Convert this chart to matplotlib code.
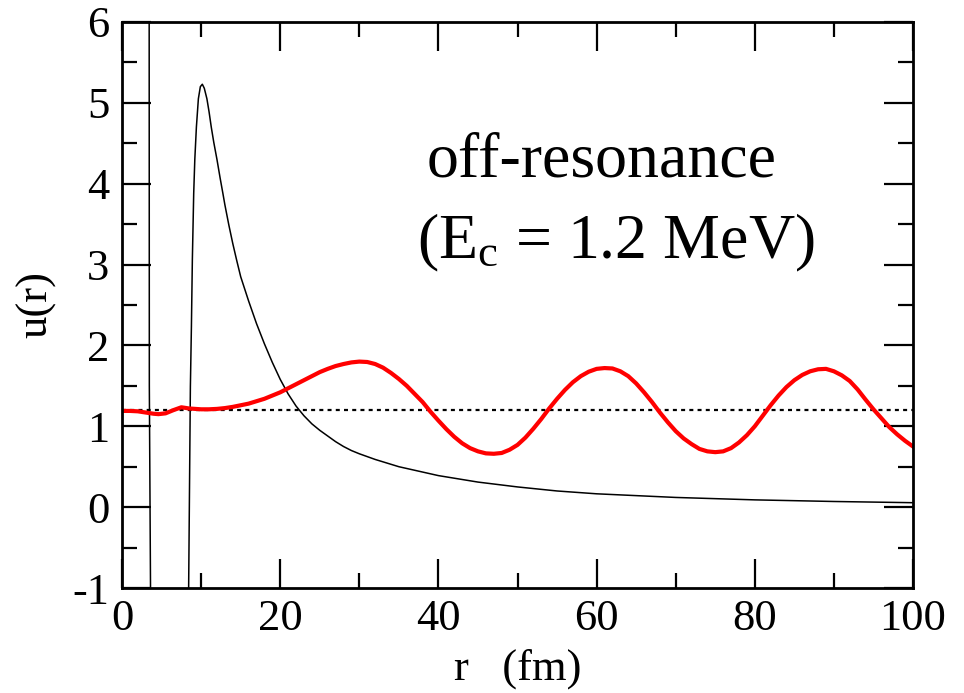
import matplotlib
matplotlib.use("Agg")
import matplotlib.pyplot as plt

# curva preta (potencial)
r_preta = [3.40, 3.43, 3.45, 3.60, 3.70, 8.20, 8.42, 8.64, 8.77, 8.89, 9.06, 9.20,
           9.40, 9.65, 9.90, 10.15, 10.40, 10.73, 11.0, 11.28, 11.6, 12.0, 12.4,
           12.75, 13.0, 13.5, 14.0, 14.5, 15, 16, 17, 18, 19, 20, 21, 22, 23, 24,
           25, 26, 27, 28, 29, 30, 32, 35, 40, 45, 50, 55, 60, 70, 80, 90, 100]
u_preta = [8.0, 6.0, 1.5, -1.0, -3.0, -3.0, -1.0, 1.49, 2.23, 3.06, 3.88, 4.30,
           4.70, 5.05, 5.20, 5.23, 5.18, 5.05, 4.89, 4.70, 4.51, 4.30, 4.07,
           3.88, 3.74, 3.49, 3.26, 3.05, 2.85, 2.55, 2.27, 2.02, 1.79, 1.58, 1.40,
           1.25, 1.13, 1.03, 0.95, 0.88, 0.81, 0.75, 0.70, 0.66, 0.59, 0.50, 0.39,
           0.31, 0.25, 0.20, 0.165, 0.12, 0.09, 0.07, 0.055]

# curva vermelha (função de onda)
r_verm = [0, 1, 2, 3, 4, 4.6, 5.5, 6.5, 7.5, 8.5, 10, 11] + list(range(12, 101))
u_verm = [1.19, 1.19, 1.185, 1.17, 1.155, 1.15, 1.16, 1.20, 1.235, 1.22, 1.21, 1.21,
          1.215, 1.225, 1.24, 1.26, 1.28, 1.31, 1.34, 1.38, 1.42, 1.47,     # 12-21
          1.52, 1.57, 1.62, 1.67, 1.71, 1.745, 1.77, 1.79, 1.80, 1.795,     # 22-31
          1.77, 1.725, 1.66, 1.585, 1.50, 1.40, 1.30, 1.18, 1.07, 0.965,    # 32-41
          0.87, 0.79, 0.73, 0.69, 0.665, 0.66, 0.67, 0.71, 0.77, 0.86,     # 42-51
          0.97, 1.09, 1.22, 1.34, 1.45, 1.545, 1.62, 1.675, 1.71, 1.72,    # 52-61
          1.715, 1.68, 1.62, 1.53, 1.42, 1.30, 1.17, 1.05, 0.94, 0.85,     # 62-71
          0.78, 0.72, 0.69, 0.68, 0.69, 0.73, 0.80, 0.89, 1.00, 1.13,      # 72-81
          1.26, 1.38, 1.485, 1.57, 1.635, 1.68, 1.705, 1.71, 1.68, 1.63,   # 82-91
          1.56, 1.455, 1.33, 1.21, 1.10, 0.99, 0.90, 0.82, 0.75]           # 92-100

energia = 1.2

plt.rcParams["font.family"] = "Liberation Serif"
plt.rcParams["mathtext.fontset"] = "custom"
plt.rcParams["mathtext.rm"] = "Liberation Serif"
plt.rcParams["mathtext.it"] = "Liberation Serif:italic"
plt.rcParams["axes.unicode_minus"] = False

fig = plt.figure(figsize=(9.64, 6.93), dpi=100)
ax = fig.add_axes([0.1266, 0.1515, 0.8205, 0.8168])

ax.plot(r_preta, u_preta, color="black", lw=1.1)
ax.axhline(energia, color="black", lw=1.6, linestyle=(0, (1.8, 1.9)))
ax.plot(r_verm, u_verm, color="red", lw=3.0)

ax.set_xlim(0, 100)
ax.set_ylim(-1, 6)
ax.set_xticks([0, 20, 40, 60, 80, 100])
ax.set_xticks(range(10, 100, 20), minor=True)
ax.set_yticks(range(-1, 7))
ax.set_yticks([-0.5 + i for i in range(7)], minor=True)

ax.tick_params(which="both", direction="in", top=True, right=True,
               labelsize=32, width=1.6)
ax.tick_params(which="major", length=21)
ax.tick_params(which="minor", length=11)
ax.tick_params(axis="x", pad=8)
ax.tick_params(axis="y", pad=9)
for s in ax.spines.values():
    s.set_linewidth(2)

ax.set_xlabel("r   (fm)", fontsize=32, labelpad=7)
ax.set_ylabel("u(r)", fontsize=32, labelpad=12)

ax.text(38.5, 4.09, "off-resonance", fontsize=46, va="baseline")
ax.text(37.3, 3.08, r"(E$_\mathrm{c}$ = 1.2 MeV)", fontsize=46, va="baseline")

plt.savefig("out.png", dpi=100)
